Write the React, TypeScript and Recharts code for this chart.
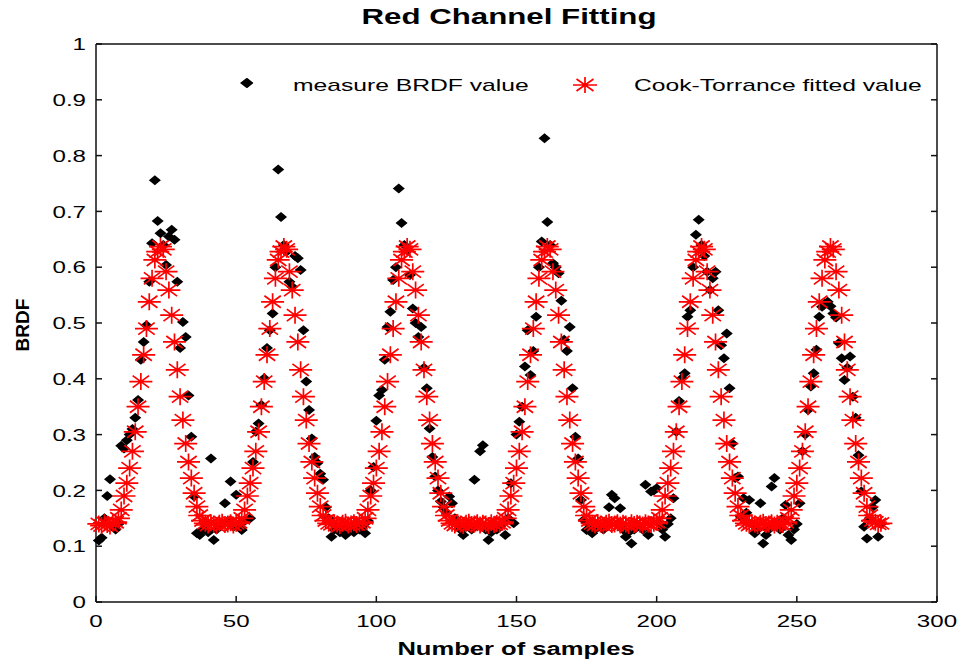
import { Scatter, ScatterChart, XAxis, YAxis } from "recharts";

// BRDF per sample index (1..280)
const measuredBRDF = [
  0.11, 0.115, 0.15, 0.19, 0.22, 0.135, 0.13, 0.14, 0.28, 0.275,
  0.29, 0.3, 0.31, 0.33, 0.362, 0.434, 0.466, 0.496, 0.574, 0.643,
  0.756, 0.683, 0.661, 0.64, 0.604, 0.655, 0.667, 0.649, 0.574, 0.455,
  0.502, 0.475, 0.37, 0.296, 0.189, 0.123, 0.12, 0.13, 0.14, 0.125,
  0.257, 0.111, 0.13, 0.135, 0.14, 0.177, 0.145, 0.216, 0.135, 0.192,
  0.14, 0.129, 0.145, 0.93, 0.15, 0.251, 0.305, 0.32, 0.353, 0.401,
  0.455, 0.487, 0.517, 0.6, 0.775, 0.69, 0.64, 0.628, 0.574, 0.565,
  0.62, 0.616, 0.595, 0.487, 0.395, 0.344, 0.293, 0.26, 0.249, 0.23,
  0.219, 0.17, 0.15, 0.117, 0.13, 0.135, 0.125, 0.14, 0.12, 0.13,
  0.135, 0.125, 0.14, 0.13, 0.135, 0.123, 0.145, 0.2, 0.242, 0.325,
  0.37, 0.38, 0.434, 0.493, 0.52, 0.577, 0.6, 0.741, 0.679, 0.64,
  0.63, 0.586, 0.526, 0.5, 0.475, 0.493, 0.42, 0.383, 0.311, 0.26,
  0.225, 0.2, 0.18, 0.17, 0.16, 0.189, 0.177, 0.15, 0.14, 0.13,
  0.12, 0.135, 0.14, 0.13, 0.219, 0.14, 0.27, 0.281, 0.13, 0.111,
  0.125, 0.14, 0.13, 0.135, 0.14, 0.12, 0.15, 0.213, 0.141, 0.3,
  0.323, 0.35, 0.422, 0.487, 0.407, 0.45, 0.511, 0.6, 0.646, 0.831,
  0.681, 0.64, 0.607, 0.6, 0.589, 0.54, 0.47, 0.45, 0.493, 0.383,
  0.296, 0.257, 0.183, 0.147, 0.129, 0.14, 0.123, 0.13, 0.14, 0.135,
  0.13, 0.14, 0.17, 0.192, 0.186, 0.14, 0.168, 0.13, 0.117, 0.125,
  0.105, 0.13, 0.14, 0.135, 0.13, 0.21, 0.12, 0.198, 0.2, 0.204,
  0.14, 0.13, 0.117, 0.14, 0.15, 0.186, 0.305, 0.36, 0.401, 0.41,
  0.511, 0.523, 0.6, 0.658, 0.685, 0.64, 0.62, 0.592, 0.559, 0.58,
  0.592, 0.523, 0.46, 0.437, 0.481, 0.383, 0.284, 0.222, 0.225, 0.153,
  0.186, 0.16, 0.183, 0.14, 0.123, 0.13, 0.177, 0.105, 0.12, 0.13,
  0.207, 0.222, 0.14, 0.13, 0.15, 0.174, 0.12, 0.111, 0.13, 0.14,
  0.177, 0.27, 0.3, 0.344, 0.386, 0.41, 0.452, 0.511, 0.529, 0.535,
  0.538, 0.53, 0.517, 0.51, 0.464, 0.437, 0.398, 0.42, 0.44, 0.368,
  0.33, 0.263, 0.198, 0.135, 0.114, 0.15, 0.17, 0.183, 0.117, 0.14,
];

const fittedBRDF = [
  // 1-6
  0.14, 0.137, 0.142, 0.139, 0.136, 0.141,
  // peak 1 (7-38)
  0.143, 0.15, 0.165, 0.19, 0.213, 0.24, 0.27, 0.305, 0.35, 0.395, 0.443, 0.49, 0.538, 0.58, 0.613, 0.628, 0.637,
  0.632, 0.592, 0.559, 0.514, 0.466, 0.416, 0.368, 0.326, 0.284, 0.251, 0.222, 0.195, 0.171, 0.155, 0.146,
  // 39-50
  0.141, 0.138, 0.142, 0.14, 0.137, 0.141, 0.143, 0.139, 0.14, 0.142, 0.138, 0.141,
  // peak 2 (51-82)
  0.143, 0.15, 0.165, 0.19, 0.213, 0.24, 0.27, 0.305, 0.35, 0.395, 0.443, 0.49, 0.538, 0.58, 0.613, 0.628, 0.637,
  0.632, 0.592, 0.559, 0.514, 0.466, 0.416, 0.368, 0.326, 0.284, 0.251, 0.222, 0.195, 0.171, 0.155, 0.146,
  // 83-94
  0.141, 0.139, 0.142, 0.14, 0.137, 0.141, 0.143, 0.138, 0.14, 0.142, 0.139, 0.141,
  // peak 3 (95-126)
  0.143, 0.15, 0.165, 0.19, 0.213, 0.24, 0.27, 0.305, 0.35, 0.395, 0.443, 0.49, 0.538, 0.58, 0.613, 0.628, 0.637,
  0.632, 0.592, 0.559, 0.514, 0.466, 0.416, 0.368, 0.326, 0.284, 0.251, 0.222, 0.195, 0.171, 0.155, 0.146,
  // 127-144
  0.141, 0.138, 0.142, 0.14, 0.137, 0.141, 0.143, 0.139, 0.14, 0.142, 0.138, 0.141, 0.14, 0.137, 0.142, 0.139, 0.141, 0.14,
  // peak 4 (145-176)
  0.143, 0.15, 0.165, 0.19, 0.213, 0.24, 0.27, 0.305, 0.35, 0.395, 0.443, 0.49, 0.538, 0.58, 0.613, 0.628, 0.637,
  0.632, 0.592, 0.559, 0.514, 0.466, 0.416, 0.368, 0.326, 0.284, 0.251, 0.222, 0.195, 0.171, 0.155, 0.146,
  // 177-199
  0.141, 0.138, 0.142, 0.14, 0.137, 0.141, 0.143, 0.139, 0.14, 0.142, 0.138, 0.141, 0.14, 0.137, 0.142, 0.139,
  0.141, 0.14, 0.138, 0.142, 0.14, 0.139, 0.141,
  // peak 5 (200-231)
  0.143, 0.15, 0.165, 0.19, 0.213, 0.24, 0.27, 0.305, 0.35, 0.395, 0.443, 0.49, 0.538, 0.58, 0.613, 0.628, 0.637,
  0.632, 0.592, 0.559, 0.514, 0.466, 0.416, 0.368, 0.326, 0.284, 0.251, 0.222, 0.195, 0.171, 0.155, 0.146,
  // 232-245
  0.141, 0.138, 0.142, 0.14, 0.137, 0.141, 0.143, 0.139, 0.14, 0.142, 0.138, 0.141, 0.14, 0.139,
  // peak 6 (246-277)
  0.143, 0.15, 0.165, 0.19, 0.213, 0.24, 0.27, 0.305, 0.35, 0.395, 0.443, 0.49, 0.538, 0.58, 0.613, 0.628, 0.637,
  0.632, 0.592, 0.559, 0.514, 0.466, 0.416, 0.368, 0.326, 0.284, 0.251, 0.222, 0.195, 0.171, 0.155, 0.146,
  // 278-280
  0.143, 0.14, 0.141,
];

const xTicks = [0, 50, 100, 150, 200, 250, 300];
const yTicks = [0, 0.1, 0.2, 0.3, 0.4, 0.5, 0.6, 0.7, 0.8, 0.9, 1];

const measuredPoints = measuredBRDF.map((v, i) => ({ sample: i + 1, brdf: v }));
const fittedPoints = fittedBRDF.map((v, i) => ({ sample: i + 1, brdf: v }));

const FONT = '"Liberation Sans", Arial, sans-serif';
const STRETCH = 1.42;
const FRAME = "#111";

const Diamond = (props: any) => {
  const { cx, cy } = props;
  if (cx == null || cy == null) return null;
  return <path d={`M${cx - 6},${cy}L${cx},${cy - 5}L${cx + 6},${cy}L${cx},${cy + 5}Z`} fill="#000" />;
};

const Asterisk = (props: any) => {
  const { cx, cy } = props;
  if (cx == null || cy == null) return null;
  return (
    <path
      d={`M${cx - 11.5},${cy}H${cx + 11.5}M${cx},${cy - 8.5}V${cy + 8.5}M${cx - 8.2},${cy - 6}L${cx + 8.2},${cy + 6}M${cx - 8.2},${cy + 6}L${cx + 8.2},${cy - 6}`}
      stroke="#ff0000"
      strokeWidth={1.7}
      fill="none"
    />
  );
};

const fmtY = (v: number) => (v === 0 ? "0" : v === 1 ? "1" : v.toFixed(1));

const LeftTick = ({ x, y, payload }: any) => (
  <g>
    <line x1={x} y1={y} x2={x + 6} y2={y} stroke={FRAME} strokeWidth={1.5} />
    <text
      transform={`translate(${x - 10},${y}) scale(${STRETCH},1)`}
      textAnchor="end"
      dominantBaseline="central"
      fontSize={17}
      fontFamily={FONT}
      fill="#000"
    >
      {fmtY(payload.value)}
    </text>
  </g>
);

const BottomTick = ({ x, y, payload }: any) => (
  <g>
    <line x1={x} y1={y} x2={x} y2={y - 6} stroke={FRAME} strokeWidth={1.5} />
    <text
      transform={`translate(${x},${y + 19}) scale(${STRETCH},1)`}
      textAnchor="middle"
      dominantBaseline="central"
      fontSize={17}
      fontFamily={FONT}
      fill="#000"
    >
      {payload.value}
    </text>
  </g>
);

const TopTick = ({ x, y }: any) => <line x1={x} y1={y} x2={x} y2={y + 6} stroke={FRAME} strokeWidth={1.5} />;
const RightTick = ({ x, y }: any) => <line x1={x} y1={y} x2={x - 6} y2={y} stroke={FRAME} strokeWidth={1.5} />;

const textBase = { position: "absolute" as const, fontFamily: FONT, color: "#000", whiteSpace: "nowrap" as const };

export default function App() {
  return (
    <div style={{ position: "relative", width: 963, height: 665, background: "#fff" }}>
      <style>{"body{margin:0}"}</style>
      <ScatterChart width={963} height={665} margin={{ top: 14, right: 6, bottom: 33, left: 36 }}>
        <XAxis
          type="number"
          dataKey="sample"
          domain={[0, 300]}
          ticks={xTicks}
          interval={0}
          tickSize={0}
          tickMargin={0}
          tickLine={false}
          height={30}
          axisLine={{ stroke: FRAME, strokeWidth: 1.5 }}
          tick={<BottomTick />}
        />
        <XAxis
          xAxisId="top"
          orientation="top"
          type="number"
          domain={[0, 300]}
          allowDataOverflow
          ticks={xTicks}
          interval={0}
          tickSize={0}
          tickMargin={0}
          tickLine={false}
          height={30}
          axisLine={{ stroke: FRAME, strokeWidth: 1.5 }}
          tick={<TopTick />}
        />
        <YAxis
          type="number"
          dataKey="brdf"
          domain={[0, 1]}
          ticks={yTicks}
          interval={0}
          tickSize={0}
          tickMargin={0}
          tickLine={false}
          width={60}
          axisLine={{ stroke: FRAME, strokeWidth: 1.5 }}
          tick={<LeftTick />}
        />
        <YAxis
          yAxisId="right"
          orientation="right"
          type="number"
          domain={[0, 1]}
          allowDataOverflow
          ticks={yTicks}
          interval={0}
          tickSize={0}
          tickMargin={0}
          tickLine={false}
          width={20}
          axisLine={{ stroke: FRAME, strokeWidth: 1.5 }}
          tick={<RightTick />}
        />
        <Scatter name="measure BRDF value" data={measuredPoints} shape={<Diamond />} isAnimationActive={false} />
        <Scatter name="Cook-Torrance fitted value" data={fittedPoints} shape={<Asterisk />} isAnimationActive={false} />
      </ScatterChart>

      <div
        style={{
          ...textBase,
          left: 509,
          top: 6,
          fontSize: 22,
          lineHeight: "22px",
          fontWeight: 700,
          transform: `translateX(-50%) scaleX(${STRETCH})`,
        }}
      >
        Red Channel Fitting
      </div>
      <div
        style={{
          ...textBase,
          left: 516,
          top: 640,
          fontSize: 18,
          lineHeight: "18px",
          fontWeight: 700,
          transform: `translateX(-50%) scaleX(${STRETCH})`,
        }}
      >
        Number of samples
      </div>
      <div
        style={{
          ...textBase,
          left: 22,
          top: 325,
          fontSize: 19,
          lineHeight: "19px",
          fontWeight: 700,
          transform: "translate(-50%, -50%) rotate(-90deg)",
        }}
      >
        BRDF
      </div>

      {/* legend */}
      <svg style={{ position: "absolute", left: 230, top: 70 }} width={380} height={30}>
        <path d="M10,13L16.5,8L23,13L16.5,18Z" fill="#000" />
        <path d="M343,15H367M355,7V23M346.5,9L363.5,21M346.5,21L363.5,9" stroke="#ff0000" strokeWidth={1.7} fill="none" />
      </svg>
      <div style={{ ...textBase, left: 293, top: 77, fontSize: 17, lineHeight: "17px", transformOrigin: "0 50%", transform: "scaleX(1.45)" }}>
        measure BRDF value
      </div>
      <div style={{ ...textBase, left: 634, top: 77, fontSize: 17, lineHeight: "17px", transformOrigin: "0 50%", transform: "scaleX(1.45)" }}>
        Cook-Torrance fitted value
      </div>
    </div>
  );
}
